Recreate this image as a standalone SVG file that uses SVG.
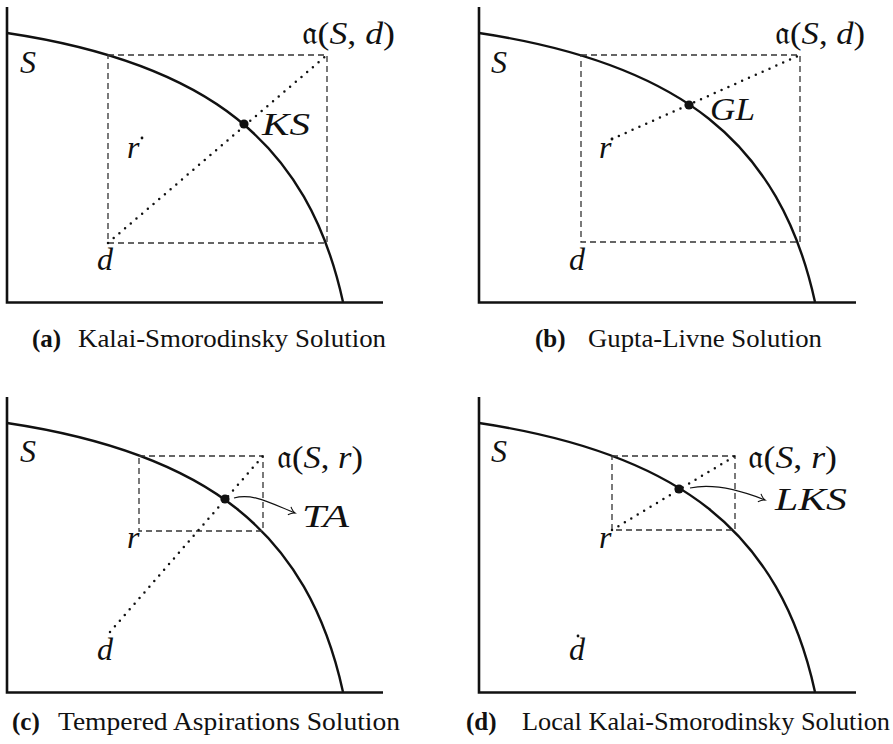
<svg xmlns="http://www.w3.org/2000/svg" width="893" height="744" viewBox="0 0 893 744">
<style>
.ax{stroke:#111;stroke-width:2.6;fill:none}
.cv{stroke:#111;stroke-width:2.4;fill:none}
.dash{stroke:#333;stroke-width:1.3;stroke-dasharray:6 4;fill:none}
.dot{stroke:#111;stroke-width:2.5;stroke-dasharray:0 7.5;stroke-linecap:round;fill:none}
.arr{stroke:#111;stroke-width:1.2;fill:none;marker-end:url(#ah)}
.pt{fill:#111}
.m{font-family:"Liberation Serif",serif;font-style:italic;font-size:32px;fill:#111}
.up{font-style:normal}
.fr{font-style:normal;font-family:"DejaVu Serif","DejaVu Sans","Noto Sans",serif}
.cap{font-family:"Liberation Serif",serif;font-size:25px;fill:#111}
.b{font-weight:bold}
</style>
<defs>
<marker id="ah" markerWidth="12" markerHeight="12" refX="9" refY="5" orient="auto" markerUnits="userSpaceOnUse">
<path d="M3,0.8 Q6,4.2 9,5 Q6,5.8 3,9.2" fill="none" stroke="#111" stroke-width="1.1"/>
</marker>
</defs>

<g id="panel-a">
<g id="a-axes"><path class="ax" d="M7,7 V302.5 H383"/></g>
<g id="a-frontier"><path class="cv" d="M7,33 C207,63 308,142 343,302"/></g>
<g id="a-connectors">
<rect class="dash" x="108" y="55" width="219" height="188"/>
<line class="dot" x1="108" y1="243" x2="327" y2="55"/>
</g>
<g id="a-KS"><circle class="pt" cx="244" cy="124" r="4.6"/><text class="m" x="262" y="135" textLength="48" lengthAdjust="spacingAndGlyphs">KS</text></g>
<g id="a-r"><circle class="pt" cx="142" cy="138" r="1.4"/><text class="m" x="127" y="158">r</text></g>
<g id="a-d"><text class="m" x="97" y="270">d</text></g>
<g id="a-S"><text class="m" x="20" y="73">S</text></g>
<g id="a-aSd"><text class="m" x="302" y="44" textLength="93" lengthAdjust="spacingAndGlyphs"><tspan class="fr">𝔞</tspan><tspan class="up">(</tspan>S<tspan class="up">, </tspan>d<tspan class="up">)</tspan></text></g>
<g id="a-caption"><text class="cap b" x="32" y="347">(a)</text><text class="cap" x="78" y="347" textLength="308" lengthAdjust="spacingAndGlyphs">Kalai-Smorodinsky Solution</text></g>
</g>

<g id="panel-b">
<g id="b-axes"><path class="ax" d="M479,7 V302.5 H856"/></g>
<g id="b-frontier"><path class="cv" d="M479,33 C679,63 780,142 815,302"/></g>
<g id="b-connectors">
<rect class="dash" x="581" y="55" width="219" height="187"/>
<line class="dot" x1="612" y1="139" x2="800" y2="55"/>
</g>
<g id="b-GL"><circle class="pt" cx="689" cy="105" r="4.6"/><text class="m" x="710" y="120" textLength="45" lengthAdjust="spacingAndGlyphs">GL</text></g>
<g id="b-r"><circle class="pt" cx="612" cy="139" r="1.4"/><text class="m" x="599" y="158">r</text></g>
<g id="b-d"><text class="m" x="569" y="270">d</text></g>
<g id="b-S"><text class="m" x="491" y="73">S</text></g>
<g id="b-aSd"><text class="m" x="775" y="44" textLength="90" lengthAdjust="spacingAndGlyphs"><tspan class="fr">𝔞</tspan><tspan class="up">(</tspan>S<tspan class="up">, </tspan>d<tspan class="up">)</tspan></text></g>
<g id="b-caption"><text class="cap b" x="535" y="347">(b)</text><text class="cap" x="588" y="347" textLength="234" lengthAdjust="spacingAndGlyphs">Gupta-Livne Solution</text></g>
</g>

<g id="panel-c">
<g id="c-axes"><path class="ax" d="M7,397 V692.5 H383"/></g>
<g id="c-frontier"><path class="cv" d="M7,423 C207,453 308,532 343,692"/></g>
<g id="c-connectors">
<rect class="dash" x="139" y="456" width="124" height="75"/>
<line class="dot" x1="110" y1="632" x2="263" y2="456"/>
<path class="arr" d="M234,498 C253,493 270,503 295,513"/>
</g>
<g id="c-TA"><circle class="pt" cx="225" cy="499" r="4.6"/><text class="m" x="302" y="527" textLength="47" lengthAdjust="spacingAndGlyphs">TA</text></g>
<g id="c-r"><text class="m" x="127" y="548">r</text></g>
<g id="c-d"><text class="m" x="97" y="660">d</text></g>
<g id="c-S"><text class="m" x="20" y="462">S</text></g>
<g id="c-aSr"><text class="m" x="277" y="468" textLength="86" lengthAdjust="spacingAndGlyphs"><tspan class="fr">𝔞</tspan><tspan class="up">(</tspan>S<tspan class="up">, </tspan>r<tspan class="up">)</tspan></text></g>
<g id="c-caption"><text class="cap b" x="12" y="730">(c)</text><text class="cap" x="58" y="730" textLength="342" lengthAdjust="spacingAndGlyphs">Tempered Aspirations Solution</text></g>
</g>

<g id="panel-d">
<g id="d-axes"><path class="ax" d="M479,397 V692.5 H856"/></g>
<g id="d-frontier"><path class="cv" d="M479,423 C679,453 780,532 815,692"/></g>
<g id="d-connectors">
<rect class="dash" x="612" y="456" width="123" height="74"/>
<line class="dot" x1="612" y1="530" x2="735" y2="456"/>
<path class="arr" d="M690,488 C714,483 740,490 765,500"/>
</g>
<g id="d-LKS"><circle class="pt" cx="679" cy="489" r="4.6"/><text class="m" x="775" y="510" textLength="72" lengthAdjust="spacingAndGlyphs">LKS</text></g>
<g id="d-r"><text class="m" x="599" y="548">r</text></g>
<g id="d-d"><circle class="pt" cx="578" cy="636" r="1.4"/><text class="m" x="569" y="660">d</text></g>
<g id="d-S"><text class="m" x="491" y="462">S</text></g>
<g id="d-aSr"><text class="m" x="748" y="468" textLength="89" lengthAdjust="spacingAndGlyphs"><tspan class="fr">𝔞</tspan><tspan class="up">(</tspan>S<tspan class="up">, </tspan>r<tspan class="up">)</tspan></text></g>
<g id="d-caption"><text class="cap b" x="466" y="730">(d)</text><text class="cap" x="522" y="730" textLength="368" lengthAdjust="spacingAndGlyphs">Local Kalai-Smorodinsky Solution</text></g>
</g>
</svg>
